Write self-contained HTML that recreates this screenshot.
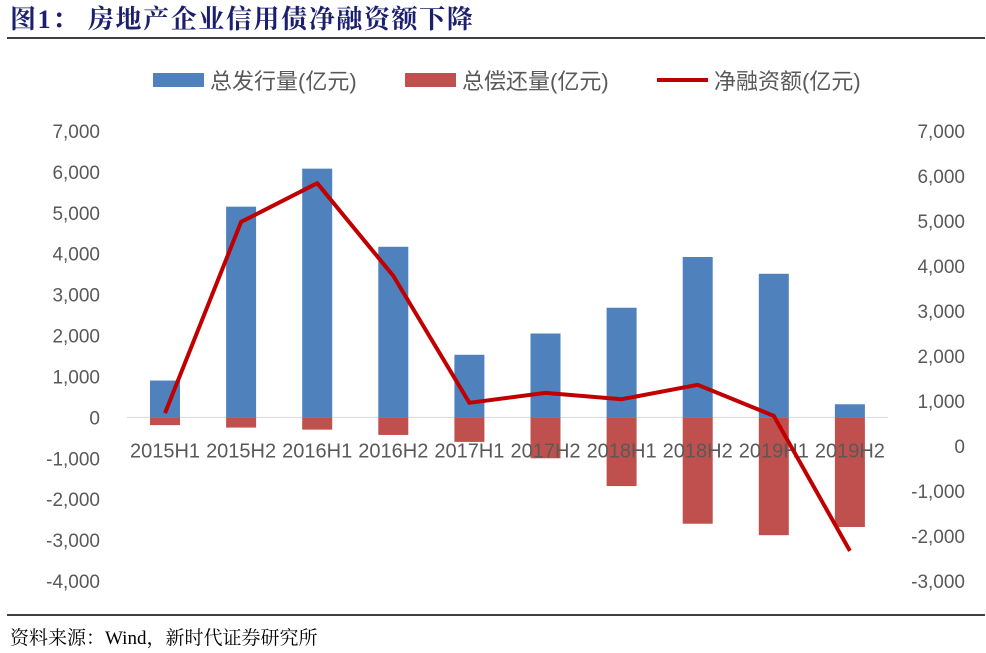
<!DOCTYPE html>
<html><head><meta charset="utf-8"><style>
body{margin:0;background:#fff;width:986px;height:653px;overflow:hidden;font-family:"Liberation Sans","Noto Sans CJK SC",sans-serif}
svg{position:absolute;left:0;top:0}
</style></head><body>
<svg id="c" width="986" height="653">
<text x="10" y="28" font-family="'Liberation Serif','Noto Serif CJK SC',serif" font-weight="bold" font-size="26" letter-spacing="1.6" fill="#1c1f6e">图1：  房地产企业信用债净融资额下降</text>
<line x1="7" y1="38" x2="985" y2="38" stroke="#000" stroke-width="1.5"/>
<line x1="7" y1="615" x2="985" y2="615" stroke="#000" stroke-width="1.5"/>
<text x="10" y="644" font-family="'Liberation Serif','Noto Serif CJK SC',serif" font-size="19" fill="#000">资料来源：Wind，新时代证券研究所</text>
<g>
<rect x="153" y="73" width="51" height="14" fill="#4f81bd"/>
<text x="210" y="89" font-size="22" fill="#595959">总发行量(亿元)</text>
<rect x="405" y="73" width="51" height="14" fill="#c0504d"/>
<text x="462" y="89" font-size="22" fill="#595959">总偿还量(亿元)</text>
<line x1="657" y1="80" x2="708" y2="80" stroke="#c00000" stroke-width="4"/>
<text x="714" y="89" font-size="22" fill="#595959">净融资额(亿元)</text>
</g>
</svg>
<script>
const categories=["2015H1","2015H2","2016H1","2016H2","2017H1","2017H2","2018H1","2018H2","2019H1","2019H2"];
const issuance=[900,5150,6080,4170,1530,2050,2680,3920,3510,320];
const repayment=[-190,-250,-300,-430,-600,-1000,-1680,-2600,-2880,-2680];
const netFinancing=[730,4980,5840,3780,960,1180,1040,1360,670,-2330];
const leftTicks=[7000,6000,5000,4000,3000,2000,1000,0,-1000,-2000,-3000,-4000];
const rightTicks=[7000,6000,5000,4000,3000,2000,1000,0,-1000,-2000,-3000];
const svg=document.getElementById('c');const NS='http://www.w3.org/2000/svg';
const plotTop=131,plotBot=581;
const yL=v=>plotTop+(7000-v)/11000*(plotBot-plotTop);
const yR=v=>plotTop+(7000-v)/10000*(plotBot-plotTop);
const xC=i=>165+i*76.1;
const fmt=v=>v.toLocaleString('en-US');
function mk(t,a){const e=document.createElementNS(NS,t);for(const k in a)e.setAttribute(k,a[k]);svg.appendChild(e);return e;}
leftTicks.forEach(v=>{const t=mk('text',{x:100,y:yL(v)+7,'text-anchor':'end','font-size':19,fill:'#595959'});t.textContent=fmt(v);

});
rightTicks.forEach(v=>{const t=mk('text',{x:965,y:yR(v)+7,'text-anchor':'end','font-size':19,fill:'#595959'});t.textContent=fmt(v);

});
const ax=mk('line',{x1:127,x2:888,y1:yL(0),y2:yL(0),stroke:'#d9d9d9','stroke-width':1});


const bw=30;
categories.forEach((c,i)=>{
 const b=mk('rect',{x:xC(i)-bw/2,y:yL(issuance[i]),width:bw,height:yL(0)-yL(issuance[i]),fill:'#4f81bd'});
 
 
 const r=mk('rect',{x:xC(i)-bw/2,y:yL(0),width:bw,height:yL(repayment[i])-yL(0),fill:'#c0504d'});
 
 
});
categories.forEach((c,i)=>{
 const t=mk('text',{x:xC(i),y:yL(0)+40,'text-anchor':'middle','font-size':20,fill:'#595959'});t.textContent=c;
 
 
});
const pl=mk('polyline',{points:netFinancing.map((v,i)=>xC(i)+','+yR(v)).join(' '),fill:'none',stroke:'#c00000','stroke-width':4,'stroke-linejoin':'round'});


</script>
</body></html>
